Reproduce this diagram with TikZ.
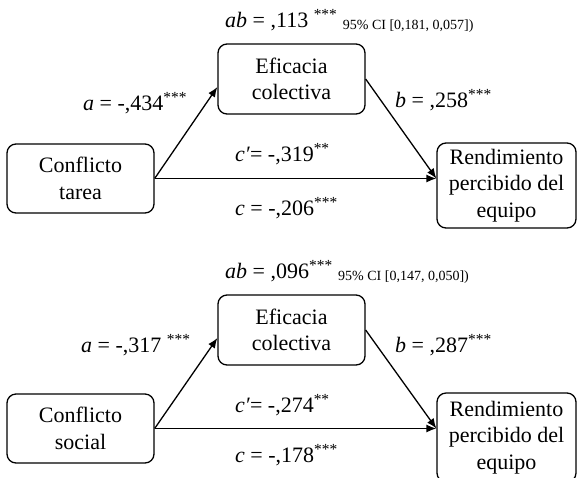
\documentclass[tikz,border=0pt]{standalone}
\usepackage{fontspec}
\setmainfont{Liberation Serif}
\newfontfamily\tnr{Liberation Serif}
\usetikzlibrary{arrows.meta,calc}
\tikzset{
  box/.style={draw, rounded corners=9pt, line width=1.3pt, inner sep=0pt, align=center,
    font=\tnr\fontsize{22}{26.5}\selectfont},
  lbl/.style={anchor=base west, inner sep=0pt, font=\tnr\fontsize{22}{26}\selectfont},
  conn/.style={line width=1.3pt, -{Latex[length=10pt,width=8pt]}}
}
\newcommand{\smallci}[1]{\raisebox{-2pt}{\tnr\fontsize{14}{16}\selectfont #1}}
\begin{document}
\begin{tikzpicture}[x=1pt,y=-1pt]
\useasboundingbox (0,0) rectangle (577,477);
\clip (0,0) rectangle (577,477);
% ---------- diagram 1 ----------
\node[box, minimum width=147pt, minimum height=69pt] (c1) at (80.5,178.5) {Conflicto\\tarea};
\node[box, minimum width=147pt, minimum height=70pt] (e1) at (291.5,79) {Eficacia\\colectiva};
\node[box, minimum width=139pt, minimum height=85pt] (r1) at (506.5,185.5) {Rendimiento\\percibido del\\equipo};
\draw[conn] (c1.east) -- ($(e1.west)+(0,8)$);
\draw[conn] (e1.east) -- (c1.east -| r1.west);
\draw[conn] (c1.east) -- (c1.east -| r1.west);
\node[lbl] (ab1) at (225,27) {\textit{ab} = ,113 \textsuperscript{***} \smallci{95\% CI [0,181, 0,057])}};
\node[lbl] (a1) at (83,110) {\textit{a} = -,434\textsuperscript{***}};
\node[lbl] (b1) at (395,107) {\textit{b} = ,258\textsuperscript{***}};
\node[lbl] (cp1) at (235,161) {\textit{c′}= -,319\textsuperscript{**}};
\node[lbl] (cc1) at (235,215) {\textit{c} = -,206\textsuperscript{***}};
% ---------- diagram 2 ----------
\node[box, minimum width=147pt, minimum height=69pt] (c2) at (80.5,428.5) {Conflicto\\social};
\node[box, minimum width=147pt, minimum height=70pt] (e2) at (291.5,330) {Eficacia\\colectiva};
\node[box, minimum width=139pt, minimum height=89pt] (r2) at (506.5,437.5) {Rendimiento\\percibido del\\equipo};
\draw[conn] (c2.east) -- ($(e2.west)+(0,8)$);
\draw[conn] (e2.east) -- (c2.east -| r2.west);
\draw[conn] (c2.east) -- (c2.east -| r2.west);
\node[lbl] (ab2) at (225,278) {\textit{ab} = ,096\textsuperscript{***} \smallci{95\% CI [0,147, 0,050])}};
\node[lbl] (a2) at (81,352) {\textit{a} = -,317 \textsuperscript{***}};
\node[lbl] (b2) at (395,352) {\textit{b} = ,287\textsuperscript{***}};
\node[lbl] (cp2) at (235,412) {\textit{c′}= -,274\textsuperscript{**}};
\node[lbl] (cc2) at (235,462) {\textit{c} = -,178\textsuperscript{***}};
\end{tikzpicture}
\end{document}
